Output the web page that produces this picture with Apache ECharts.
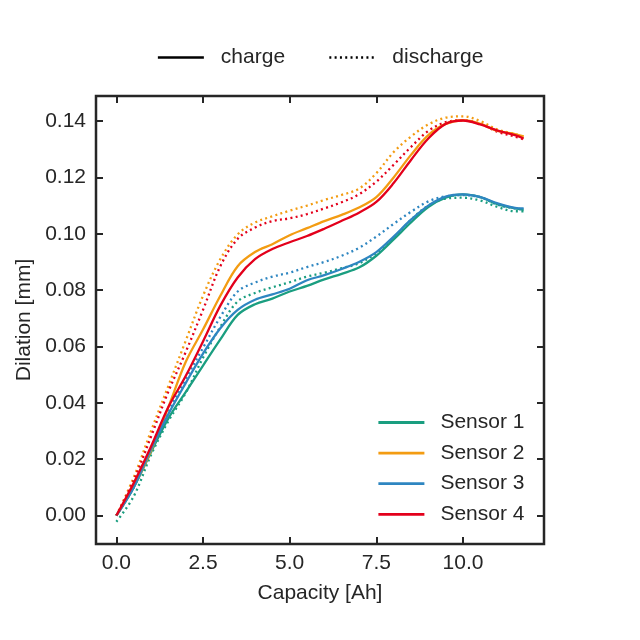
<!DOCTYPE html>
<html>
<head>
<meta charset="utf-8">
<script src="https://cdn.jsdelivr.net/npm/echarts@6/dist/echarts.min.js"></script>
<style>html,body{margin:0;padding:0;background:#fff}#c{width:640px;height:640px}</style>
</head>
<body>
<div id="c"></div>
<script>
// Data
const capacity = [0, 0.5, 1, 1.5, 2, 2.5, 3, 3.5, 4, 4.5, 5, 5.5, 6, 6.5, 7, 7.5, 8, 8.5, 9, 9.5, 10, 10.5, 11, 11.5, 11.75];
const s1Charge    = [0.0000, 0.0100, 0.0225, 0.0345, 0.0438, 0.0532, 0.0625, 0.0712, 0.0750, 0.0770, 0.0795, 0.0815, 0.0838, 0.0858, 0.0880, 0.0922, 0.0980, 0.1040, 0.1095, 0.1128, 0.1140, 0.1130, 0.1105, 0.1090, 0.1086];
const s1Discharge = [-0.0022, 0.0068, 0.0215, 0.0335, 0.0435, 0.0560, 0.0670, 0.0760, 0.0790, 0.0810, 0.0828, 0.0848, 0.0862, 0.0878, 0.0895, 0.0932, 0.0985, 0.1050, 0.1100, 0.1125, 0.1128, 0.1118, 0.1095, 0.1080, 0.1080];
const s2Charge    = [0.0000, 0.0102, 0.0230, 0.0385, 0.0545, 0.0660, 0.0780, 0.0885, 0.0935, 0.0963, 0.0995, 0.1020, 0.1045, 0.1067, 0.1093, 0.1130, 0.1200, 0.1280, 0.1350, 0.1390, 0.1403, 0.1390, 0.1365, 0.1354, 0.1346];
const s2Discharge = [0.0000, 0.0135, 0.0300, 0.0460, 0.0620, 0.0780, 0.0910, 0.0998, 0.1040, 0.1062, 0.1082, 0.1100, 0.1120, 0.1138, 0.1160, 0.1215, 0.1290, 0.1345, 0.1388, 0.1412, 0.1417, 0.1400, 0.1370, 0.1354, 0.1344];
const s3Charge    = [0.0000, 0.0100, 0.0235, 0.0360, 0.0470, 0.0575, 0.0665, 0.0730, 0.0766, 0.0785, 0.0805, 0.0835, 0.0853, 0.0875, 0.0900, 0.0935, 0.0990, 0.1050, 0.1100, 0.1132, 0.1140, 0.1130, 0.1108, 0.1092, 0.1090];
const s3Discharge = [0.0000, 0.0100, 0.0235, 0.0370, 0.0485, 0.0595, 0.0705, 0.0795, 0.0827, 0.0848, 0.0862, 0.0882, 0.0900, 0.0922, 0.0950, 0.0990, 0.1035, 0.1078, 0.1115, 0.1133, 0.1137, 0.1130, 0.1103, 0.1090, 0.1086];
const s4Charge    = [0.0000, 0.0115, 0.0245, 0.0385, 0.0495, 0.0618, 0.0745, 0.0845, 0.0910, 0.0946, 0.0970, 0.0992, 0.1018, 0.1046, 0.1075, 0.1113, 0.1180, 0.1262, 0.1338, 0.1390, 0.1402, 0.1388, 0.1366, 0.1350, 0.1338];
const s4Discharge = [0.0000, 0.0125, 0.0280, 0.0440, 0.0580, 0.0730, 0.0885, 0.0982, 0.1022, 0.1045, 0.1055, 0.1070, 0.1090, 0.1112, 0.1140, 0.1185, 0.1245, 0.1308, 0.1365, 0.1396, 0.1403, 0.1390, 0.1362, 0.1345, 0.1335];
const sensorNames = ['Sensor 1', 'Sensor 2', 'Sensor 3', 'Sensor 4'];
const xTicks = [0, 2.5, 5, 7.5, 10];
const yTicks = [0, 0.02, 0.04, 0.06, 0.08, 0.10, 0.12, 0.14];

const colors = ['#1a9e80', '#f39c12', '#2e86c1', '#e3001b'];
const ink = '#262626';
const FONT = 'Liberation Sans, Arial, sans-serif';
const FS = 21;
const LW = 2.3;
const dotted = [2, 3.3];

const chargeSets = [s1Charge, s2Charge, s3Charge, s4Charge];
const dischargeSets = [s1Discharge, s2Discharge, s3Discharge, s4Discharge];
const pairs = arr => capacity.map((x, i) => [x, arr[i]]);

const series = [];
chargeSets.forEach((arr, k) => {
  series.push({
    name: sensorNames[k], type: 'line', data: pairs(arr), symbol: 'none', smooth: 0.35,
    color: colors[k], lineStyle: { width: LW, color: colors[k] }, z: 3
  });
});
dischargeSets.forEach((arr, k) => {
  series.push({
    name: sensorNames[k] + ' (discharge)', type: 'line', data: pairs(arr), symbol: 'none', smooth: 0.35,
    color: colors[k], lineStyle: { width: LW, color: colors[k], type: dotted }, z: 2
  });
});
series.push({ name: 'charge', type: 'line', data: [], symbol: 'none', color: '#000', lineStyle: { width: LW, color: '#000' } });
series.push({ name: 'discharge', type: 'line', data: [], symbol: 'none', color: '#000', lineStyle: { width: LW, color: '#000', type: dotted } });

const xMin = -0.5875, xMax = 12.3375, yMin = -0.0101, yMax = 0.1489;
const tickStyle = { show: true, inside: true, length: 7, lineStyle: { color: ink, width: 2 } };
const noLine = { show: false, onZero: false };

const option = {
  animation: false,
  backgroundColor: '#fff',
  textStyle: { fontFamily: FONT },
  grid: { left: 96, right: 96, top: 96, bottom: 96, show: true, borderColor: ink, borderWidth: 2.5, backgroundColor: 'transparent' },
  legend: [
    {
      data: ['charge', 'discharge'], top: 47, left: 'center', padding: 0, itemWidth: 46, itemHeight: 14, itemGap: 43,
      itemStyle: { opacity: 0 }, lineStyle: { width: 2.5 },
      textStyle: { fontSize: FS, color: ink, fontFamily: FONT, padding: [0, 0, 0, 12] }, selectedMode: false
    },
    {
      data: sensorNames, orient: 'vertical', left: 377, top: 412, padding: 0, itemWidth: 46, itemHeight: 14, itemGap: 9.6,
      itemStyle: { opacity: 0 }, lineStyle: { width: 2.8 },
      textStyle: { fontSize: FS, color: ink, fontFamily: FONT, padding: [0, 0, 0, 11] }, selectedMode: false
    }
  ],
  xAxis: [
    {
      type: 'value', min: xMin, max: xMax, position: 'bottom',
      name: 'Capacity [Ah]', nameLocation: 'middle', nameGap: 39,
      nameTextStyle: { fontSize: FS, color: ink, fontFamily: FONT },
      axisLine: noLine, splitLine: { show: false },
      axisTick: Object.assign({ customValues: xTicks }, tickStyle),
      axisLabel: { customValues: xTicks, formatter: v => v.toFixed(1), fontSize: FS, color: ink, margin: 9, fontFamily: FONT }
    },
    {
      type: 'value', min: xMin, max: xMax, position: 'top',
      axisLine: noLine, splitLine: { show: false },
      axisTick: Object.assign({ customValues: xTicks }, tickStyle),
      axisLabel: { show: false }
    }
  ],
  yAxis: [
    {
      type: 'value', min: yMin, max: yMax, position: 'left',
      name: 'Dilation [mm]', nameLocation: 'middle', nameGap: 60,
      nameTextStyle: { fontSize: FS, color: ink, fontFamily: FONT },
      axisLine: noLine, splitLine: { show: false },
      axisTick: Object.assign({ customValues: yTicks }, tickStyle),
      axisLabel: { customValues: yTicks, formatter: v => v.toFixed(2), fontSize: FS, color: ink, margin: 10, fontFamily: FONT }
    },
    {
      type: 'value', min: yMin, max: yMax, position: 'right',
      axisLine: noLine, splitLine: { show: false },
      axisTick: Object.assign({ customValues: yTicks }, tickStyle),
      axisLabel: { show: false }
    }
  ],
  series: series
};

const chart = echarts.init(document.getElementById('c'), null, { renderer: 'canvas' });
chart.setOption(option);
</script>
</body>
</html>
